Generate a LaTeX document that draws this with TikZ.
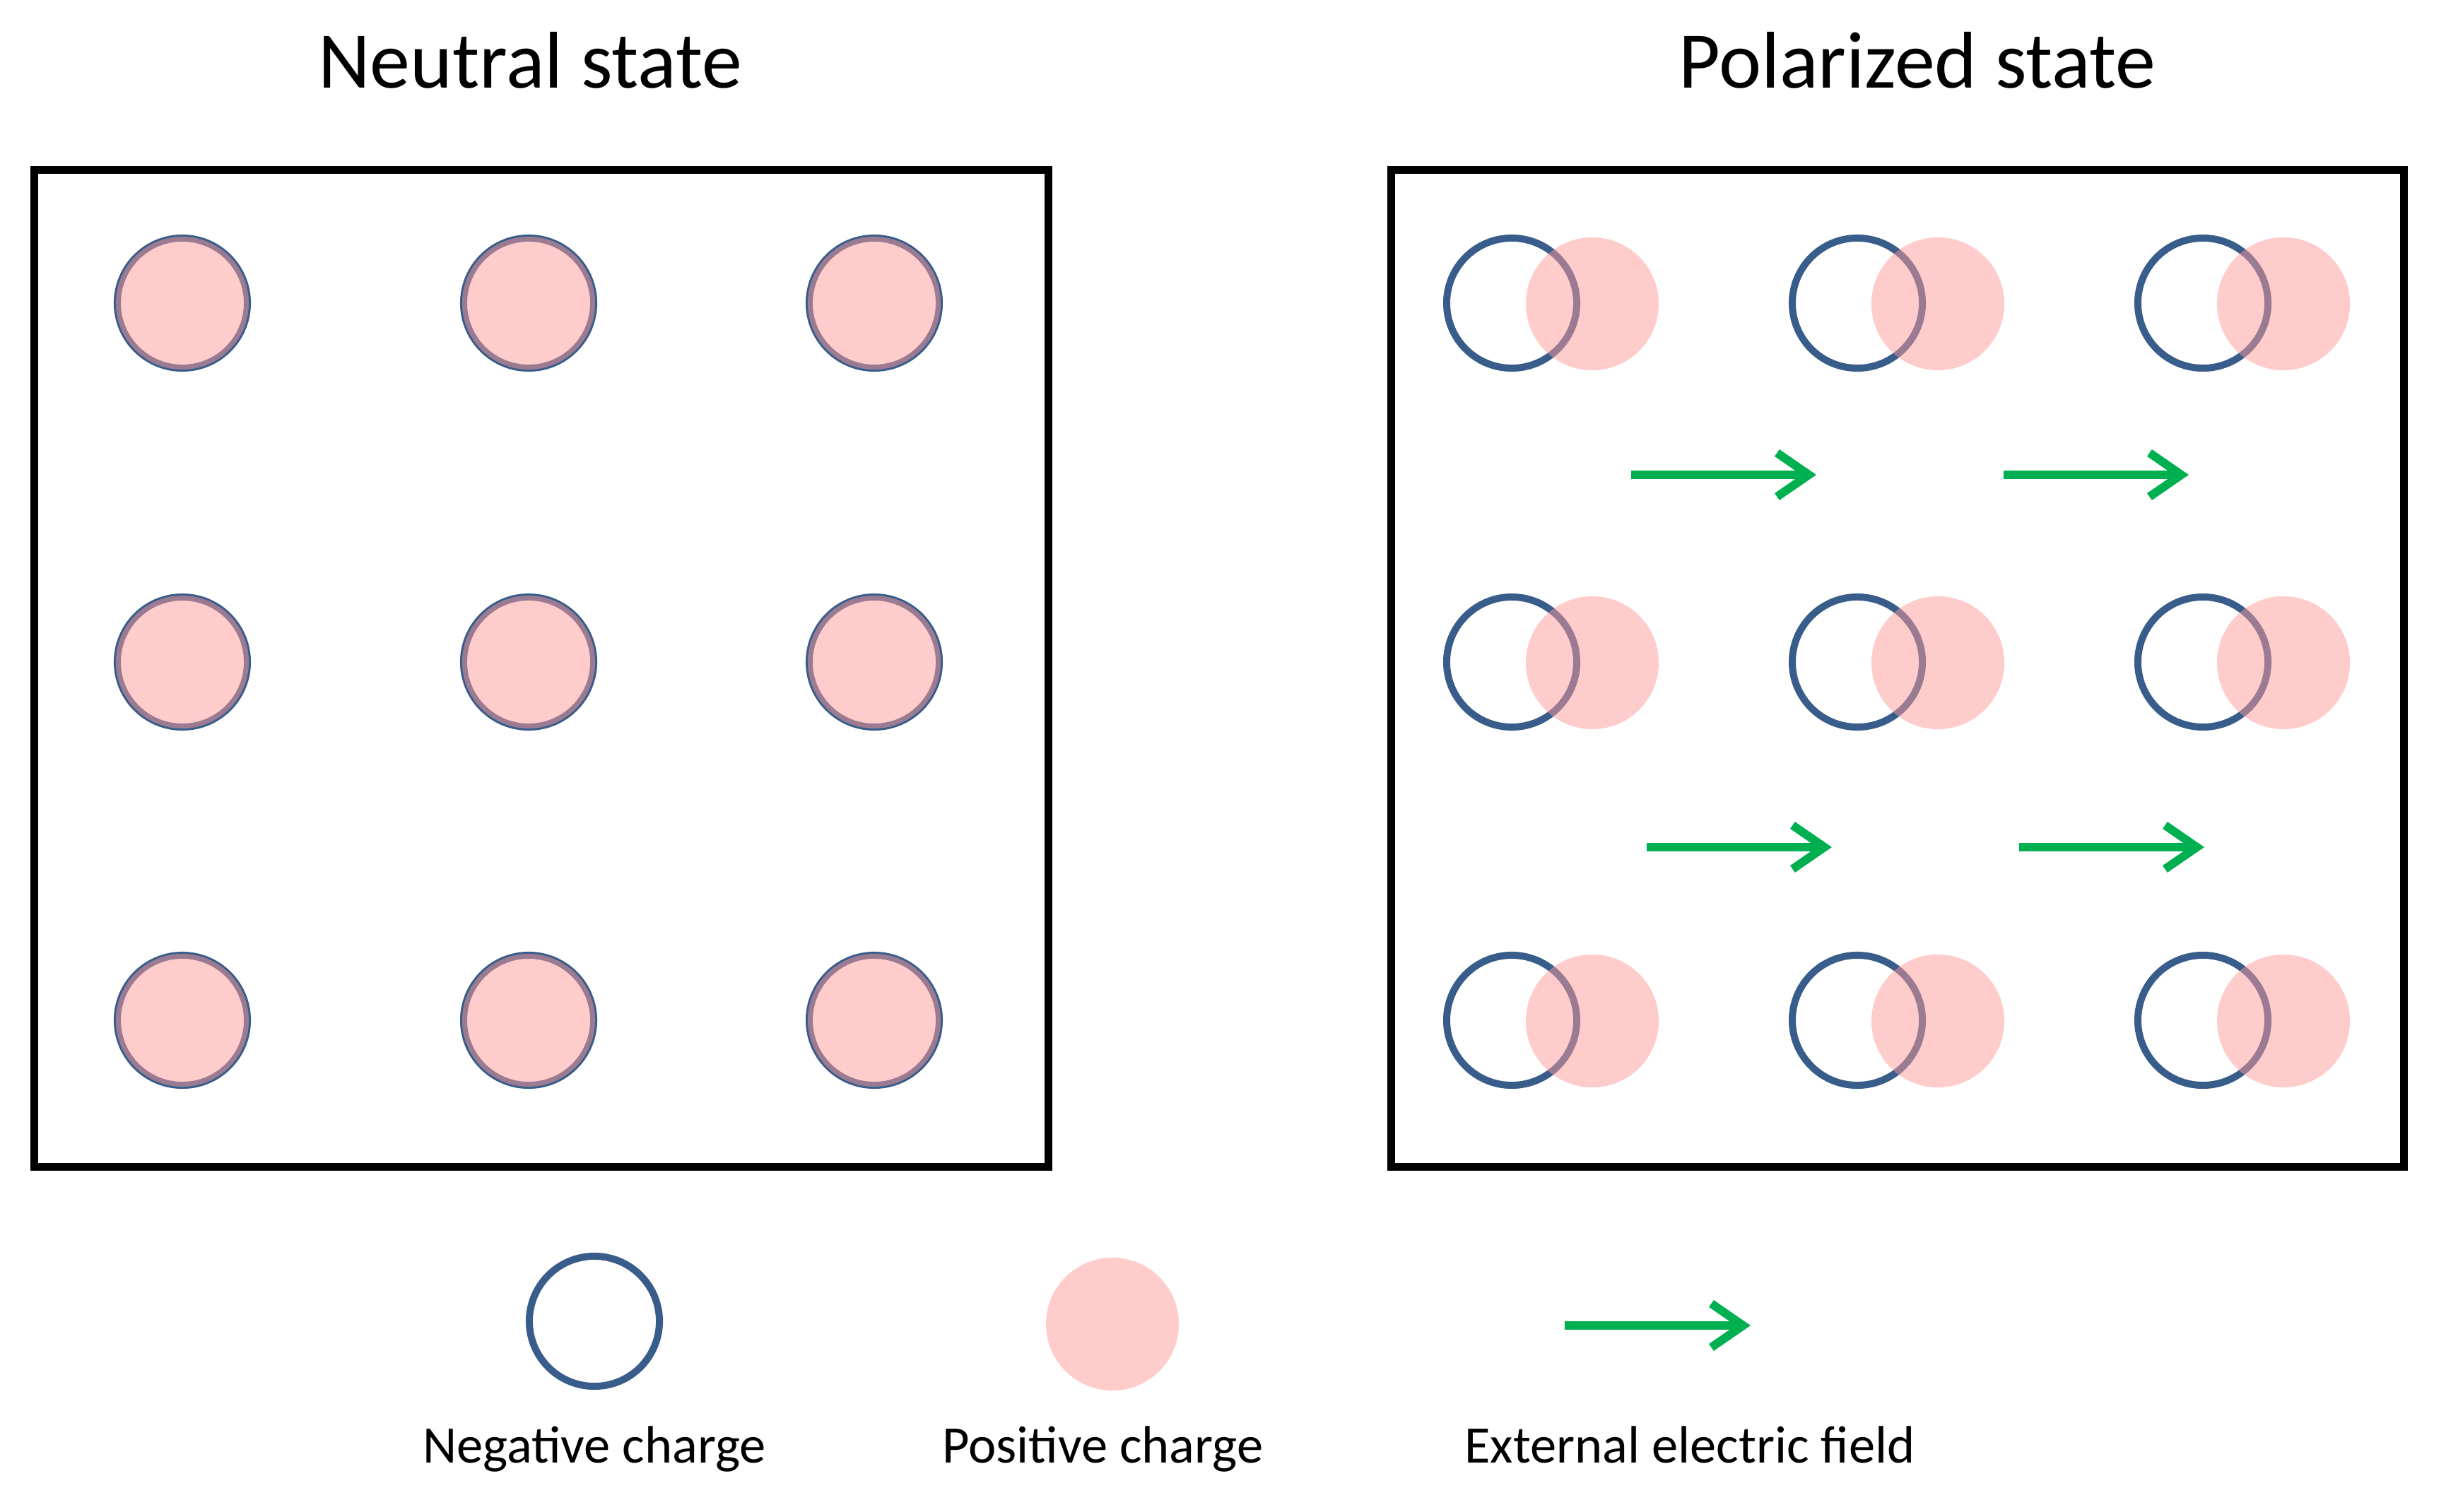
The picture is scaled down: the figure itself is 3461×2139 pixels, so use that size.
\documentclass[tikz,border=0pt]{standalone}
\usepackage{fontspec}
\setmainfont{Carlito}
\usetikzlibrary{arrows.meta}
\definecolor{negblue}{RGB}{56,93,138}
\definecolor{pospink}{RGB}{255,153,153}
\definecolor{fieldgreen}{RGB}{0,176,80}
\tikzset{
  negc/.style={circle, draw=negblue, line width=0.10cm, minimum size=1.84cm, inner sep=0pt},
  posc/.style={circle, fill=pospink, fill opacity=0.5, minimum size=1.88cm, inner sep=0pt},
  nbox/.style={draw=black, line width=0.11cm},
  field/.style={draw=fieldgreen, line width=0.12cm, -{Straight Barb[length=0.45cm, width=0.62cm]}},
  title/.style={font=\fontsize{32.4pt}{36pt}\selectfont, anchor=base},
  legend/.style={font=\fontsize{21.2pt}{24pt}\selectfont, anchor=base},
}
\begin{document}
\begin{tikzpicture}[x=0.01cm, y=-0.01cm]
\useasboundingbox (0,0) rectangle (3461,2139);
% titles
\node[title] (t1) at (750,124) {Neutral state};
\node[title] (t2) at (2713,124) {Polarized state};
% boxes
\node[nbox, minimum width=14.34cm, minimum height=14.10cm, inner sep=0pt] (boxL) at (766,946) {};
\node[nbox, minimum width=14.32cm, minimum height=14.10cm, inner sep=0pt] (boxR) at (2685,946) {};
% left panel
\foreach \c/\x in {1/258,2/748,3/1237}{
  \foreach \r/\y in {1/429,2/937,3/1444}{
    \node[negc] (Ln\c\r) at (\x,\y) {};
    \node[posc] (Lp\c\r) at (\x,\y) {};
  }
}
% right panel
\foreach \c/\x in {1/2139,2/2628,3/3117}{
  \foreach \r/\y in {1/429,2/937,3/1444}{
    \node[negc] (Rn\c\r) at (\x,\y) {};
    \node[posc] (Rp\c\r) at ({\x+114},{\y+1}) {};
  }
}
% field arrows
\coordinate (a1s) at (2308,672);
\coordinate (a1e) at (2570,672);
\coordinate (a2s) at (2835,672);
\coordinate (a2e) at (3097,672);
\coordinate (a3s) at (2330,1199);
\coordinate (a3e) at (2592,1199);
\coordinate (a4s) at (2857,1199);
\coordinate (a4e) at (3119,1199);
\draw[field] (a1s) -- (a1e);
\draw[field] (a2s) -- (a2e);
\draw[field] (a3s) -- (a3e);
\draw[field] (a4s) -- (a4e);
% legend
\node[negc] (legN) at (841,1870) {};
\node[posc] (legP) at (1574,1874) {};
\coordinate (legAs) at (2214,1876);
\coordinate (legAe) at (2477,1876);
\draw[field] (legAs) -- (legAe);
\node[legend] (txtN) at (841,2070) {Negative charge};
\node[legend] (txtP) at (1560,2070) {Positive charge};
\node[legend] (txtA) at (2391,2070) {External electric field};
\end{tikzpicture}
\end{document}
